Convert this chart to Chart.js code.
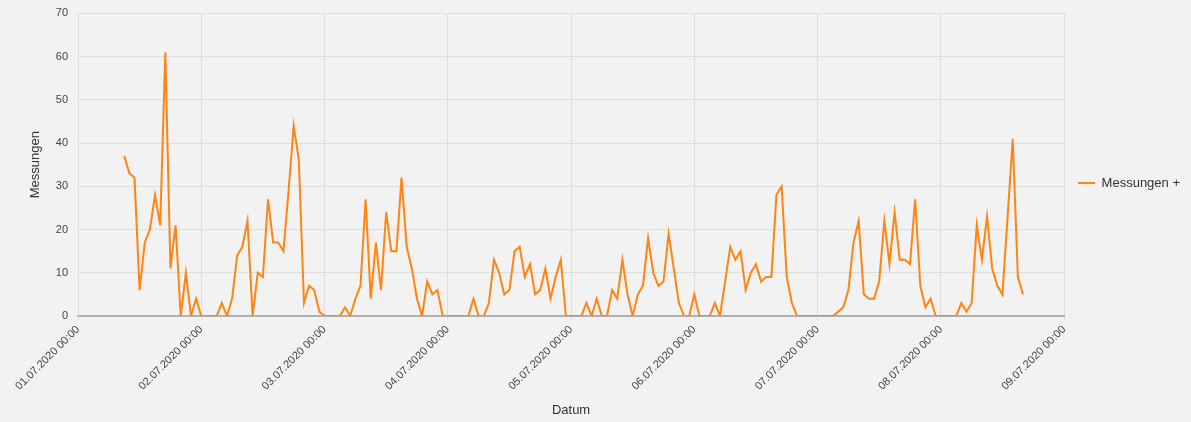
<!DOCTYPE html>
<html>
<head>
<meta charset="utf-8">
<script src="https://cdn.jsdelivr.net/npm/chart.js@4.4.0/dist/chart.umd.min.js"></script>
<style>
  html, body { margin: 0; padding: 0; background: #f2f2f2; }
  #wrap { width: 1191px; height: 422px; }
</style>
</head>
<body>
<div id="wrap"><canvas id="chart" width="1191" height="422"></canvas></div>
<script>
// hourly values, first one is 01.07.2020 09:00
const startHour = 9;
const dayLabels = ['01.07.2020 00:00', '02.07.2020 00:00', '03.07.2020 00:00', '04.07.2020 00:00',
  '05.07.2020 00:00', '06.07.2020 00:00', '07.07.2020 00:00', '08.07.2020 00:00', '09.07.2020 00:00'];
const seriesName = 'Messungen +';
const measurements = [
  // 01.07 09h-23h
  37, 33, 32, 6, 17, 20, 28, 21, 61, 11, 21, 0, 10, 0, 4,
  // 02.07
  0, 0, 0, 0, 3, 0, 4, 14, 16, 22, 0, 10, 9, 27, 17, 17, 15, 29, 44, 36, 3, 7, 6, 1,
  // 03.07
  0, 0, 0, 0, 2, 0, 4, 7, 27, 4, 17, 6, 24, 15, 15, 32, 16, 11, 4, 0, 8, 5, 6, 0,
  // 04.07
  0, 0, 0, 0, 0, 4, 0, 0, 3, 13, 10, 5, 6, 15, 16, 9, 12, 5, 6, 11, 4, 9, 13, 0,
  // 05.07
  0, 0, 0, 3, 0, 4, 0, 0, 6, 4, 13, 5, 0, 5, 7, 18, 10, 7, 8, 19, 11, 3, 0, 0,
  // 06.07
  5, 0, 0, 0, 3, 0, 8, 16, 13, 15, 6, 10, 12, 8, 9, 9, 28, 30, 9, 3, 0, 0, 0, 0,
  // 07.07
  0, 0, 0, 0, 1, 2, 6, 17, 22, 5, 4, 4, 8, 22, 12, 24, 13, 13, 12, 27, 7, 2, 4, 0,
  // 08.07 00h-16h
  0, 0, 0, 0, 3, 1, 3, 21, 13, 23, 11, 7, 5, 23, 41, 9, 5
];

const points = measurements.map((v, i) => ({ x: startHour + i, y: v }));

// legend sits a bit higher and further left than chart.js puts it
const legendShift = {
  id: 'legendShift',
  afterLayout(c) {
    c.legend.top -= 28;
    c.legend.bottom -= 28;
    c.legend.left -= 1;
  }
};

const ctx = document.getElementById('chart').getContext('2d');
const chart = new Chart(ctx, {
  type: 'line',
  data: {
    datasets: [{
      label: seriesName,
      data: points,
      borderColor: '#ff8412',
      backgroundColor: '#ff8412',
      borderWidth: 2,
      pointRadius: 0,
      tension: 0,
      fill: false
    }]
  },
  plugins: [legendShift],
  options: {
    responsive: false,
    animation: false,
    layout: { padding: { top: 0, right: 0 } },
    plugins: {
      tooltip: { enabled: false },
      legend: {
        position: 'right',
        labels: {
          usePointStyle: true,
          pointStyle: 'line',
          pointStyleWidth: 17,
          padding: 15,
          color: '#333',
          font: { family: 'Liberation Sans, Arial, sans-serif', size: 13 }
        }
      }
    },
    scales: {
      x: {
        type: 'linear',
        min: 0,
        max: 192,
        ticks: {
          stepSize: 24,
          autoSkip: false,
          maxRotation: 45,
          minRotation: 45,
          color: '#444',
          font: { family: 'Liberation Sans, Arial, sans-serif', size: 11 },
          callback: v => dayLabels[v / 24]
        },
        grid: { color: '#dedede', tickLength: 4 },
        border: { color: '#b0b0b0', width: 2 },
        title: {
          display: true,
          text: 'Datum',
          color: '#333',
          font: { family: 'Liberation Sans, Arial, sans-serif', size: 13 },
          padding: { top: 0, bottom: 4 }
        },
        afterFit: s => { s.height = 106; }
      },
      y: {
        min: 0,
        max: 70,
        ticks: {
          stepSize: 10,
          padding: 10,
          color: '#444',
          // small lineHeight keeps the top padding of the axis at ~13px
          font: { family: 'Liberation Sans, Arial, sans-serif', size: 11, lineHeight: 0.6 }
        },
        grid: { color: '#dedede', drawTicks: false },
        border: { color: '#dedede' },
        title: {
          display: true,
          text: 'Messungen',
          color: '#333',
          font: { family: 'Liberation Sans, Arial, sans-serif', size: 13 },
          padding: { top: 28, bottom: 0 }
        },
        afterFit: s => { s.width = 78; }
      }
    }
  }
});
</script>
</body>
</html>
